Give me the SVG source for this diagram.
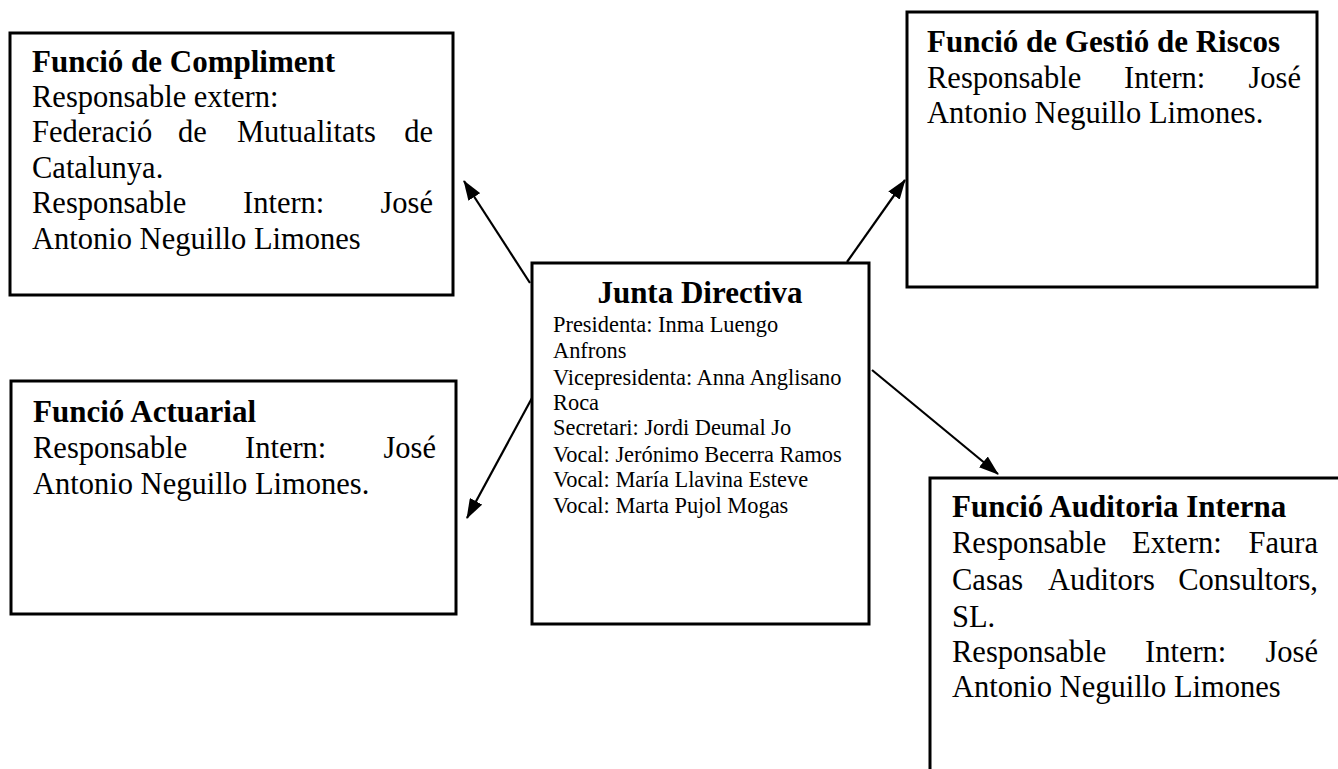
<svg xmlns="http://www.w3.org/2000/svg" width="1338" height="769" viewBox="0 0 1338 769">
<style>
.box{fill:#fff;stroke:#000;stroke-width:3}
.t{font-family:"Liberation Serif","Times New Roman",serif;font-size:30.5px;fill:#000}
.b{font-weight:bold;font-size:31px}
.s{font-family:"Liberation Serif","Times New Roman",serif;font-size:22.4px;fill:#000}
.conn{stroke:#000;stroke-width:2.2;fill:none;marker-end:url(#ah)}
</style>
<defs>
<marker id="ah" markerUnits="userSpaceOnUse" markerWidth="20" markerHeight="14" refX="19" refY="7" orient="auto">
<path d="M0,0 L20,7 L0,14 z" fill="#000"/>
</marker>
</defs>
<rect width="1338" height="769" fill="#fff"/>
<g id="connectors">
<line class="conn" x1="530" y1="283" x2="464" y2="181"/>
<line class="conn" x1="847" y1="262" x2="905" y2="180"/>
<line class="conn" x1="532" y1="398" x2="467" y2="518"/>
<line class="conn" x1="872" y1="370" x2="998" y2="474"/>
</g>
<g id="compliment">
<rect class="box" x="10" y="33" width="443" height="262"/>
<text class="t b" x="32" y="72">Funció de Compliment</text>
<text class="t" x="32" y="107">Responsable extern:</text>
<text class="t" y="142"><tspan x="32">Federació</tspan><tspan x="178">de</tspan><tspan x="237">Mutualitats</tspan><tspan x="433" text-anchor="end">de</tspan></text>
<text class="t" x="32" y="178">Catalunya.</text>
<text class="t" y="213"><tspan x="32">Responsable</tspan><tspan x="243">Intern:</tspan><tspan x="433" text-anchor="end">José</tspan></text>
<text class="t" x="32" y="249">Antonio Neguillo Limones</text>
</g>
<g id="gestio">
<rect class="box" x="907" y="12" width="410" height="275"/>
<text class="t b" x="927" y="52">Funció de Gestió de Riscos</text>
<text class="t" y="88"><tspan x="927">Responsable</tspan><tspan x="1124">Intern:</tspan><tspan x="1301" text-anchor="end">José</tspan></text>
<text class="t" x="927" y="123">Antonio Neguillo Limones.</text>
</g>
<g id="junta">
<rect class="box" x="532" y="263" width="337" height="361"/>
<text class="t b" x="700" y="303" text-anchor="middle">Junta Directiva</text>
<text class="s" x="553" y="332">Presidenta: Inma Luengo</text>
<text class="s" x="553" y="358">Anfrons</text>
<text class="s" x="553" y="385">Vicepresidenta: Anna Anglisano</text>
<text class="s" x="553" y="410">Roca</text>
<text class="s" x="553" y="435">Secretari: Jordi Deumal Jo</text>
<text class="s" x="553" y="462">Vocal: Jerónimo Becerra Ramos</text>
<text class="s" x="553" y="487">Vocal: María Llavina Esteve</text>
<text class="s" x="553" y="513">Vocal: Marta Pujol Mogas</text>
</g>
<g id="actuarial">
<rect class="box" x="11" y="381" width="445" height="233"/>
<text class="t b" x="33" y="422">Funció Actuarial</text>
<text class="t" y="458"><tspan x="33">Responsable</tspan><tspan x="245">Intern:</tspan><tspan x="436" text-anchor="end">José</tspan></text>
<text class="t" x="33" y="494">Antonio Neguillo Limones.</text>
</g>
<g id="auditoria">
<rect class="box" x="930" y="478" width="420" height="300"/>
<text class="t b" x="952" y="517">Funció Auditoria Interna</text>
<text class="t" y="553"><tspan x="952">Responsable</tspan><tspan x="1132">Extern:</tspan><tspan x="1318" text-anchor="end">Faura</tspan></text>
<text class="t" y="590"><tspan x="952">Casas</tspan><tspan x="1048">Auditors</tspan><tspan x="1318" text-anchor="end">Consultors,</tspan></text>
<text class="t" x="952" y="627">SL.</text>
<text class="t" y="662"><tspan x="952">Responsable</tspan><tspan x="1145">Intern:</tspan><tspan x="1318" text-anchor="end">José</tspan></text>
<text class="t" x="952" y="697">Antonio Neguillo Limones</text>
</g>
</svg>
